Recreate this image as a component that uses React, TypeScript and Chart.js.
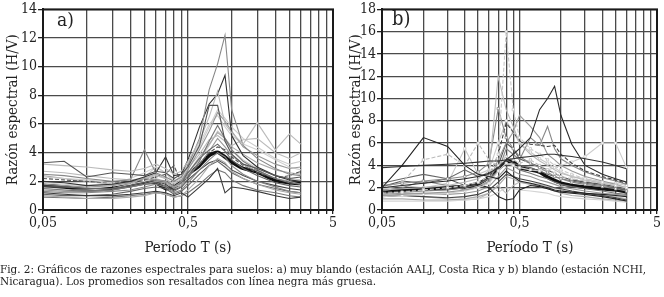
import React, { useEffect, useRef } from 'react';
import { Chart, registerables } from 'chart.js';
Chart.register(...registerables);

// Periods (s) at which the spectral ratios are sampled
const PERIODS = [0.05, 0.07, 0.1, 0.15, 0.2, 0.25, 0.3, 0.35, 0.4, 0.45, 0.5, 0.6, 0.7, 0.8, 0.9, 1.0, 1.2, 1.5, 2.0, 2.5, 3.0];

// Grid positions on the log axis and the labelled ones
const X_GRID = [0.05, 0.1, 0.15, 0.2, 0.25, 0.3, 0.35, 0.4, 0.45, 0.5, 1, 1.5, 2, 2.5, 3, 3.5, 4, 4.5, 5];
const X_LABELS: Record<string, string> = { '0.05': '0,05', '0.5': '0,5', '5': '5' };

const Y_MAX_A = 14;
const Y_MAX_B = 18;

// ---- Panel a) station AALJ (individual records) ----
const a01 = [3.3, 3.4, 2.3, 2.6, 2.5, 2.4, 2.7, 2.6, 2.2, 2.5, 3.0, 4.5, 7.3, 7.3, 4.8, 3.9, 3.2, 2.9, 2.4, 2.2, 2.3];
const a02 = [3.2, 3.1, 3.0, 2.8, 2.7, 2.9, 3.2, 2.9, 2.5, 2.7, 3.4, 4.8, 6.5, 8.3, 6.0, 5.4, 4.6, 6.1, 4.2, 5.3, 4.6];
const a03 = [2.5, 2.4, 2.2, 2.0, 2.1, 4.2, 2.6, 2.3, 2.0, 2.3, 3.1, 5.0, 8.4, 10.2, 12.2, 7.0, 4.5, 3.6, 2.9, 2.5, 2.4];
const a04 = [2.0, 1.9, 1.7, 1.8, 2.0, 2.3, 2.6, 3.7, 2.4, 2.5, 3.5, 5.8, 7.4, 8.1, 9.4, 5.2, 3.8, 3.0, 2.4, 2.1, 2.0];
const a05 = [1.8, 1.7, 1.6, 1.7, 1.9, 2.2, 2.1, 2.0, 1.6, 2.0, 2.8, 4.2, 5.5, 6.8, 6.2, 5.5, 4.4, 3.8, 3.2, 2.9, 3.0];
const a06 = [1.5, 1.4, 1.3, 1.4, 1.6, 1.8, 1.9, 1.7, 1.3, 1.6, 2.2, 3.4, 4.8, 5.9, 5.0, 4.2, 3.4, 2.8, 2.2, 1.9, 1.8];
const a07 = [2.3, 2.2, 2.1, 1.9, 1.8, 2.3, 3.0, 2.6, 1.9, 2.2, 3.0, 4.4, 5.8, 7.0, 6.4, 5.8, 5.0, 4.4, 3.6, 3.2, 3.4];
const a08 = [1.2, 1.1, 1.0, 1.0, 1.1, 1.2, 1.3, 1.2, 1.0, 1.2, 0.9, 1.6, 2.2, 2.9, 1.2, 1.6, 1.5, 1.3, 1.0, 0.8, 0.9];
const a09 = [1.0, 0.9, 0.8, 0.8, 0.9, 1.0, 1.2, 1.1, 0.9, 1.0, 1.4, 2.2, 3.1, 3.6, 3.3, 2.7, 2.2, 1.8, 1.4, 1.2, 1.1];
const a10 = [1.6, 1.6, 1.5, 1.5, 1.7, 1.9, 2.1, 2.0, 1.7, 1.9, 2.6, 3.6, 4.2, 4.6, 4.1, 3.5, 2.9, 2.4, 1.9, 1.7, 1.6];
const a11 = [2.7, 2.6, 2.4, 2.2, 2.1, 2.2, 2.4, 2.2, 1.8, 2.1, 2.9, 3.9, 4.9, 5.2, 4.8, 4.5, 4.9, 5.0, 4.0, 3.6, 4.0];
const a12 = [1.3, 1.2, 1.2, 1.3, 1.4, 1.6, 1.8, 1.6, 1.2, 1.4, 1.9, 2.8, 3.5, 4.0, 3.7, 3.1, 2.5, 2.0, 1.6, 1.3, 1.2];
const a13 = [2.2, 2.1, 2.0, 1.9, 2.0, 2.1, 2.3, 2.5, 3.1, 1.9, 2.3, 3.2, 4.0, 4.4, 4.2, 3.7, 3.1, 2.6, 2.2, 2.4, 2.7];
const a14 = [1.9, 1.8, 1.7, 1.8, 2.2, 2.6, 3.0, 2.6, 2.0, 2.4, 3.3, 4.6, 6.0, 6.6, 5.8, 5.2, 4.6, 4.2, 3.5, 3.0, 2.8];
const a15 = [0.9, 0.85, 0.8, 0.9, 1.0, 1.1, 1.2, 1.1, 0.9, 1.0, 1.2, 1.8, 2.4, 2.8, 2.6, 2.1, 1.7, 1.4, 1.2, 1.0, 0.9];
const a16 = [1.4, 1.3, 1.3, 1.4, 1.6, 1.8, 2.0, 1.9, 1.5, 1.7, 2.4, 3.2, 4.1, 5.0, 4.4, 3.8, 3.2, 2.7, 2.2, 2.0, 1.8];
const a17 = [1.7, 1.6, 1.5, 1.5, 1.6, 1.8, 2.0, 1.8, 1.4, 1.6, 2.1, 2.8, 3.3, 3.5, 3.2, 2.8, 2.4, 2.0, 1.7, 1.5, 1.4];
const a18 = [2.4, 2.2, 2.0, 1.8, 1.9, 2.2, 2.5, 2.2, 1.6, 1.9, 2.6, 3.7, 4.6, 5.4, 5.0, 4.4, 3.9, 3.3, 2.8, 2.6, 2.5];
const a19 = [1.1, 1.0, 1.0, 1.1, 1.3, 1.5, 1.6, 1.5, 1.1, 1.3, 1.7, 2.5, 3.1, 3.4, 3.0, 2.6, 2.2, 1.8, 1.5, 1.3, 1.2];
const a20 = [1.5, 1.4, 1.4, 1.5, 1.8, 2.0, 2.2, 2.0, 1.6, 1.8, 2.5, 3.5, 4.5, 5.5, 5.0, 4.2, 3.5, 2.9, 2.4, 2.2, 2.1];
const AVG_A = [1.73, 1.6, 1.42, 1.5, 1.72, 1.9, 1.9, 1.5, 1.6, 2.0, 2.5, 3.1, 3.8, 4.03, 3.7, 3.35, 2.9, 2.65, 2.07, 1.9, 1.85];

// ---- Panel b) station NCHI (individual records) ----
const b01 = [2.0, 4.0, 6.5, 5.7, 4.0, 3.2, 3.0, 2.8, 3.5, 3.0, 2.6, 2.4, 2.2, 2.0, 1.8, 1.7, 1.6, 1.5, 1.4, 1.3, 1.2];
const b02 = [3.8, 3.9, 4.0, 4.1, 4.2, 4.3, 4.4, 4.4, 4.5, 4.6, 4.7, 4.8, 4.9, 5.0, 5.0, 4.9, 4.8, 4.6, 4.3, 4.0, 3.7];
const b03 = [2.0, 2.2, 2.4, 2.6, 2.8, 3.0, 3.3, 3.8, 4.5, 5.0, 5.5, 6.5, 9.0, 10.0, 11.1, 8.5, 5.9, 4.0, 3.2, 2.8, 2.5];
const b04 = [1.5, 1.6, 1.8, 2.0, 2.2, 2.5, 3.0, 5.0, 16.0, 9.0, 6.5, 5.5, 5.0, 4.5, 4.0, 3.6, 3.2, 2.8, 2.5, 2.2, 2.0];
const b05 = [1.8, 1.9, 2.0, 2.2, 2.5, 2.8, 3.5, 12.0, 9.0, 7.5, 6.0, 5.0, 4.4, 4.0, 3.6, 3.3, 3.0, 2.7, 2.4, 2.2, 2.0];
const b06 = [2.2, 2.4, 2.6, 2.8, 3.0, 3.4, 4.2, 9.1, 6.5, 5.5, 4.8, 4.2, 3.8, 3.4, 3.0, 2.8, 2.5, 2.3, 2.1, 1.9, 1.7];
const b07 = [1.6, 1.7, 1.8, 1.9, 2.1, 2.4, 3.0, 5.0, 7.8, 7.0, 6.2, 5.9, 5.8, 5.7, 5.8, 5.0, 4.2, 3.5, 3.0, 2.7, 2.4];
const b08 = [1.3, 1.4, 1.5, 1.6, 1.8, 2.1, 2.6, 4.5, 6.0, 7.0, 8.5, 7.5, 6.5, 5.0, 4.5, 4.0, 3.5, 3.0, 2.6, 2.3, 2.0];
const b09 = [1.2, 1.3, 1.4, 1.5, 1.7, 2.0, 2.4, 3.5, 4.2, 4.0, 3.8, 3.6, 3.5, 3.6, 3.8, 4.0, 4.3, 4.8, 6.0, 6.0, 3.8];
const b10 = [1.8, 1.9, 2.0, 2.1, 2.2, 2.3, 2.0, 1.2, 0.9, 1.0, 1.8, 2.2, 2.1, 1.9, 1.7, 1.6, 1.5, 1.4, 1.2, 1.0, 0.8];
const b11 = [1.5, 1.6, 1.7, 1.8, 2.0, 2.3, 2.8, 3.5, 4.2, 4.0, 3.6, 3.3, 3.0, 2.8, 2.5, 2.3, 2.1, 1.9, 1.7, 1.5, 1.4];
const b12 = [1.0, 1.0, 0.9, 0.9, 1.0, 1.2, 1.5, 2.2, 3.0, 2.8, 2.5, 2.3, 2.1, 1.9, 1.7, 1.5, 1.3, 1.2, 1.0, 0.9, 0.8];
const b13 = [2.0, 2.5, 4.5, 5.0, 4.0, 6.0, 4.5, 4.0, 4.8, 4.5, 4.2, 4.5, 4.0, 3.6, 3.3, 3.0, 2.8, 2.6, 2.4, 2.2, 2.0];
const b14 = [2.4, 2.8, 3.2, 2.8, 3.6, 3.0, 3.2, 3.8, 4.5, 4.2, 4.0, 3.8, 3.5, 3.2, 3.0, 2.8, 2.6, 2.4, 2.2, 2.0, 1.8];
const b15 = [0.8, 0.8, 0.8, 0.8, 0.9, 1.0, 1.2, 1.6, 2.0, 1.9, 1.8, 1.7, 1.6, 1.5, 1.3, 1.2, 1.1, 1.0, 0.9, 0.8, 0.7];
const b16 = [1.7, 2.0, 2.6, 2.2, 1.8, 2.0, 2.5, 3.5, 5.5, 5.0, 4.5, 6.5, 5.8, 7.5, 5.5, 4.6, 4.0, 3.4, 2.9, 2.6, 2.3];
const b17 = [1.2, 1.3, 1.2, 1.1, 1.2, 1.4, 1.8, 2.5, 3.2, 3.0, 2.8, 2.6, 2.4, 2.2, 2.0, 1.9, 1.7, 1.5, 1.3, 1.1, 0.9];
const b18 = [1.9, 2.2, 2.0, 2.4, 5.5, 3.2, 3.6, 6.0, 8.0, 7.0, 6.0, 5.2, 4.6, 4.2, 3.8, 3.4, 3.0, 2.8, 2.5, 2.4, 2.2];
const b19 = [1.4, 1.5, 1.5, 1.4, 1.5, 1.7, 2.1, 3.0, 3.8, 3.5, 3.2, 3.0, 2.7, 2.5, 2.3, 2.1, 1.9, 1.7, 1.5, 1.4, 1.3];
const b20 = [2.1, 2.6, 2.4, 2.8, 2.2, 2.5, 2.8, 4.0, 6.0, 5.5, 4.6, 4.2, 3.9, 3.6, 3.3, 3.0, 2.7, 2.5, 2.3, 2.1, 1.9];
const b21 = [1.3, 1.3, 1.2, 1.0, 0.9, 1.0, 1.5, 2.2, 1.5, 2.2, 2.5, 2.4, 2.3, 2.1, 2.0, 1.8, 1.6, 1.5, 1.3, 1.2, 1.0];
const AVG_B = [1.62, 1.78, 1.9, 2.0, 2.1, 2.35, 2.95, 3.7, 4.28, 4.34, 3.83, 3.6, 3.4, 2.95, 2.65, 2.4, 2.2, 2.06, 1.9, 1.83, 1.62];

const LINES_A = [a01, a02, a03, a04, a05, a06, a07, a08, a09, a10, a11, a12, a13, a14, a15, a16, a17, a18, a19, a20];
const LINES_B = [b01, b02, b03, b04, b05, b06, b07, b08, b09, b10, b11, b12, b13, b14, b15, b16, b17, b18, b19, b20, b21];

const X_TITLE = 'Período T (s)';
const Y_TITLE = 'Razón espectral (H/V)';

// styles (kept apart from data)
const GRAYS_A = ['#555', '#bbb', '#888', '#333', '#999', '#777', '#ccc', '#3a3a3a', '#aaa', '#666', '#bbb', '#888', '#555', '#d0d0d0', '#777', '#999', '#444', '#aaa', '#666', '#c4c4c4'];
const GRAYS_B = ['#222', '#333', '#2a2a2a', '#c8c8c8', '#bbb', '#888', '#444', '#999', '#ccc', '#222', '#777', '#aaa', '#bbb', '#666', '#d4d4d4', '#888', '#444', '#c8c8c8', '#999', '#555', '#bbb'];
const DASHED_A = [12];
const DASHED_B = [3, 6, 12];
const MARKED_B = [3, 8, 12, 17, 5];

const FONT = '"DejaVu Serif Condensed", "DejaVu Serif", serif';

const framePlugin = {
  id: 'frame',
  afterDatasetsDraw(chart: any) {
    const { ctx, chartArea } = chart;
    ctx.save();
    ctx.strokeStyle = '#1a1a1a';
    ctx.lineWidth = 2;
    ctx.strokeRect(chartArea.left, chartArea.top, chartArea.right - chartArea.left, chartArea.bottom - chartArea.top);
    ctx.restore();
  },
};

function buildDatasets(lines: number[][], grays: string[], dashed: number[], marked: number[], avg: number[]) {
  const ds: any[] = lines.map((vals, i) => ({
    data: PERIODS.map((t, k) => ({ x: t, y: vals[k] })),
    borderColor: grays[i],
    borderWidth: 1.1,
    borderDash: dashed.includes(i) ? [4, 2] : [],
    pointRadius: marked.includes(i) ? 1.6 : 0,
    pointStyle: 'rect',
    pointBackgroundColor: '#fff',
    pointBorderColor: grays[i],
    pointBorderWidth: 0.8,
    tension: 0,
  }));
  ds.push({
    data: PERIODS.map((t, k) => ({ x: t, y: avg[k] })),
    borderColor: '#111',
    borderWidth: 3.6,
    pointRadius: 0,
    tension: 0.2,
  });
  return ds;
}

function makeConfig(datasets: any[], yMax: number, yWidth: number, padRight: number, yTitlePad: number): any {
  return {
    type: 'line',
    data: { datasets },
    plugins: [framePlugin],
    options: {
      animation: false,
      responsive: false,
      events: [],
      layout: { padding: { left: 0, right: padRight, top: 7, bottom: 0 } },
      plugins: { legend: { display: false }, tooltip: { enabled: false } },
      scales: {
        x: {
          type: 'logarithmic',
          min: 0.05,
          max: 5,
          afterBuildTicks: (scale: any) => {
            scale.ticks = X_GRID.map((v) => ({ value: v }));
          },
          afterFit: (scale: any) => {
            scale.height = 48;
          },
          ticks: {
            autoSkip: false,
            maxRotation: 0,
            padding: 1,
            color: '#222',
            font: { family: FONT, size: 14 },
            callback: (v: any) => X_LABELS[String(Number(v))] ?? '',
          },
          grid: { color: '#4a4a4a', lineWidth: 1.3, tickLength: 4, tickColor: '#222' },
          border: { color: '#1a1a1a', width: 2 },
          title: { display: false },
        },
        y: {
          min: 0,
          max: yMax,
          afterFit: (scale: any) => {
            scale.width = yWidth;
          },
          ticks: {
            stepSize: 2,
            padding: 1,
            color: '#222',
            font: { family: FONT, size: 14 },
          },
          grid: { color: '#4a4a4a', lineWidth: 1.3, tickLength: 5, tickColor: '#222' },
          border: { color: '#1a1a1a', width: 2 },
          title: {
            display: true,
            text: Y_TITLE,
            color: '#222',
            font: { family: FONT, size: 15 },
            padding: { top: yTitlePad, bottom: 0 },
          },
        },
      },
    },
  };
}

function Panel(props: { lines: number[][]; grays: string[]; dashed: number[]; marked: number[]; avg: number[]; yMax: number; width: number; yWidth: number; padRight: number; yTitlePad: number }) {
  const ref = useRef<HTMLCanvasElement>(null);
  useEffect(() => {
    if (!ref.current) return;
    const ds = buildDatasets(props.lines, props.grays, props.dashed, props.marked, props.avg);
    const chart = new Chart(ref.current, makeConfig(ds, props.yMax, props.yWidth, props.padRight, props.yTitlePad));
    return () => chart.destroy();
  }, []);
  return <canvas ref={ref} width={props.width} height={258} style={{ width: props.width, height: 258, display: 'block' }} />;
}

const xTitleStyle = (center: number): React.CSSProperties => ({
  position: 'absolute',
  left: center - 80,
  width: 160,
  top: 238,
  textAlign: 'center',
  fontSize: 15,
  lineHeight: '18px',
});

export default function App() {
  return (
    <div style={{ position: 'fixed', left: 0, top: 0, width: 664, height: 297, background: '#fff', overflow: 'hidden', fontFamily: FONT, color: '#222' }}>
      <div style={{ position: 'absolute', left: 0, top: 0 }}>
        <Panel lines={LINES_A} grays={GRAYS_A} dashed={DASHED_A} marked={[]} avg={AVG_A} yMax={Y_MAX_A} width={340} yWidth={43} padRight={7} yTitlePad={4} />
      </div>
      <div style={{ position: 'absolute', left: 340, top: 0 }}>
        <Panel lines={LINES_B} grays={GRAYS_B} dashed={DASHED_B} marked={MARKED_B} avg={AVG_B} yMax={Y_MAX_B} width={324} yWidth={42} padRight={7} yTitlePad={7} />
      </div>
      <div style={{ position: 'absolute', left: 57, top: 8, fontSize: 19, lineHeight: '22px' }}>a)</div>
      <div style={{ position: 'absolute', left: 392, top: 7, fontSize: 20, lineHeight: '22px' }}>b)</div>
      <div style={xTitleStyle(188)}>{X_TITLE}</div>
      <div style={xTitleStyle(530)}>{X_TITLE}</div>
      <div style={{ position: 'absolute', left: 0, top: 263, fontSize: 11.6, lineHeight: '12px', whiteSpace: 'nowrap' }}>
        Fig. 2: Gráficos de razones espectrales para suelos: a) muy blando (estación AALJ, Costa Rica y b) blando (estación NCHI,
        <br />
        Nicaragua). Los promedios son resaltados con línea negra más gruesa.
      </div>
    </div>
  );
}
